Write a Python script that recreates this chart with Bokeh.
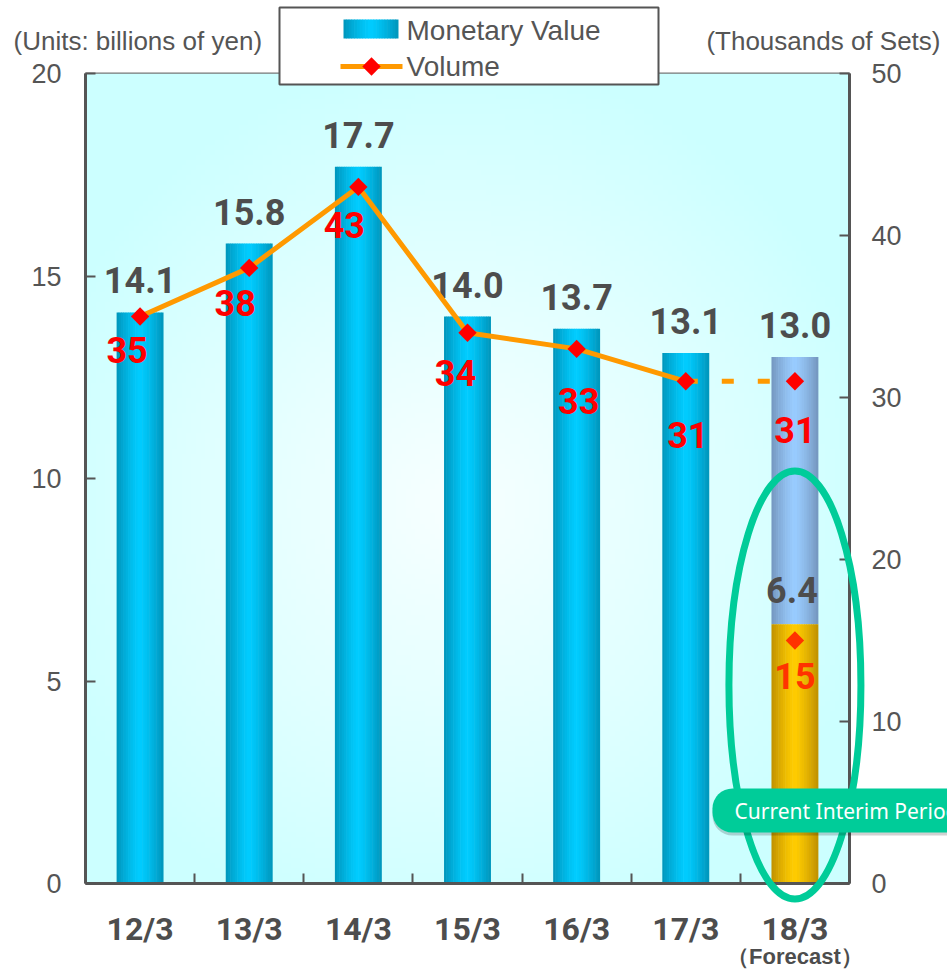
import numpy as np
from bokeh.plotting import figure
from bokeh.models import Range1d, LinearAxis, FixedTicker, ColumnDataSource
from bokeh.core.properties import value
from bokeh.embed import file_html
from bokeh.resources import INLINE

# ---- data ---------------------------------------------------------------
periods = ["12/3", "13/3", "14/3", "15/3", "16/3", "17/3", "18/3"]
amount = [14.1, 15.8, 17.7, 14.0, 13.7, 13.1, 13.0]      # billions of yen
volume = [35, 38, 43, 34, 33, 31, 31]                    # thousands of sets
interim_amount = 6.4
interim_volume = 15
yen_ticks = [0, 5, 10, 15, 20]
set_ticks = [0, 10, 20, 30, 40, 50]
forecast_note = "（Forecast）"
interim_note = "Current Interim Period"
left_unit = "(Units: billions of yen)"
right_unit = "(Thousands of Sets)"
legend_labels = ["Monetary Value", "Volume"]

# ---- styling --------------------------------------------------------------
GRAY = "#555555"
DARK = "#4D4D4D"
SANS = "Liberation Sans"
NUM = "Roboto"
ORANGE = "#FF9900"
TEAL = "#00CC99"
# pixel nudges for the red volume labels (x shift, drop below marker)
vol_dx = [-13, -14, -14, -12, 2, 2, 0]
vol_dy = [33, 35, 38, 40, 52, 54, 49]

W, H = 947, 972
FL, FR, FT, FB = 85, 849, 73, 883          # plot frame edges in pixels
n = len(periods)
xc = np.arange(n) + 0.5
BAR_W = 0.43
YMAX = 20


def fx(px):
    """canvas pixel column -> x data value"""
    return (px - FL) / (FR - FL) * n


def fy(py):
    """canvas pixel row -> left-axis data value"""
    return (FB - py) / (FB - FT) * YMAX


p = figure(width=W, height=H, x_range=Range1d(0, n), y_range=Range1d(0, YMAX),
           output_backend="svg", toolbar_location=None,
           min_border_left=FL, min_border_right=W - FR, min_border_top=FT,
           min_border_bottom=H - FB)
p.extra_y_ranges = {"vol": Range1d(0, 50)}
p.xgrid.visible = False
p.ygrid.visible = False
p.background_fill_color = "white"
p.border_fill_color = "white"
p.outline_line_color = "#777777"
p.outline_line_width = 2

# ---- soft radial background ------------------------------------------------
gh, gw = 160, 160
yy, xx = np.mgrid[0:gh, 0:gw]
px = xx / (gw - 1) * (FR - FL)
py = (1 - yy / (gh - 1)) * (FB - FT)
d = np.sqrt(((px - 370) / 440.0) ** 2 + ((py - 430) / 450.0) ** 2)
t = np.clip(d, 0, 1) ** 1.1
edge = np.array([204, 255, 255], dtype=float)
mid = np.array([247, 255, 255], dtype=float)
rgb = mid + (edge - mid) * t[..., None]
img = np.empty((gh, gw), dtype=np.uint32)
view = img.view(dtype=np.uint8).reshape((gh, gw, 4))
for k in range(3):
    view[..., k] = rgb[..., k].astype(np.uint8)
view[..., 3] = 255
p.image_rgba(image=[img], x=0, y=0, dw=n, dh=YMAX)


# ---- cylinder-shaded bars --------------------------------------------------
def hexc(c):
    return np.array([int(c[i:i + 2], 16) for i in (1, 3, 5)], dtype=float)


def tone(c_mid, c_edge, f):
    a, b = hexc(c_mid), hexc(c_edge)
    c = a + (b - a) * f
    return "#%02x%02x%02x" % tuple(int(round(v)) for v in c)


NS = 20
offs = (np.arange(NS) + 0.5) / NS - 0.5


def shaded_strips(xpos, width, bottom, top, c_mid, c_edge, out):
    sw = width / NS
    for o in offs:
        f = min(1.0, abs(o) * 2) ** 1.3
        cx = xpos + o * width
        out["left"].append(max(xpos - width / 2, cx - sw * 0.62))
        out["right"].append(min(xpos + width / 2, cx + sw * 0.62))
        out["bottom"].append(bottom)
        out["top"].append(top)
        out["color"].append(tone(c_mid, c_edge, f))


BLUE_MID, BLUE_EDGE = "#00CCFF", "#0094BA"
strips = dict(left=[], right=[], bottom=[], top=[], color=[])
for i in range(n - 1):
    shaded_strips(xc[i], BAR_W, 0, amount[i], BLUE_MID, BLUE_EDGE, strips)
shaded_strips(xc[-1], BAR_W, interim_amount, amount[-1], "#99CCFF", "#7496BE", strips)
shaded_strips(xc[-1], BAR_W, 0, interim_amount, "#FFCC00", "#BF9000", strips)
p.quad(left="left", right="right", bottom="bottom", top="top", source=ColumnDataSource(strips),
       fill_color="color", line_color=None)

# ---- amount labels ----------------------------------------------------------
p.text(x=xc, y=amount, text=[f"{v:.1f}" for v in amount], text_align="center",
       text_baseline="middle", y_offset=-32, text_font=value(NUM), text_font_style="bold",
       text_font_size="36px", text_color=DARK)
p.text(x=[xc[-1]], y=[interim_amount], text=[f"{interim_amount:.1f}"], text_align="center",
       text_baseline="middle", x_offset=-3, y_offset=-34, text_font=value(NUM),
       text_font_style="bold", text_font_size="36px", text_color=DARK)

# ---- volume line ------------------------------------------------------------
p.line(xc[:n - 1], volume[:n - 1], y_range_name="vol", line_color=ORANGE, line_width=5)
p.line(xc[n - 2:], volume[n - 2:], y_range_name="vol", line_color=ORANGE, line_width=5,
       line_dash="12 24")
p.scatter(xc, volume, y_range_name="vol", marker="square", angle=np.pi / 4, size=13,
          fill_color="#FF0000", line_color=None)
p.scatter([xc[-1]], [interim_volume], y_range_name="vol", marker="square", angle=np.pi / 4,
          size=13, fill_color="#FF3300", line_color=None)

vol_src = ColumnDataSource(dict(x=xc, y=volume, t=[str(v) for v in volume], dx=vol_dx, dy=vol_dy))
p.text(x="x", y="y", text="t", x_offset="dx", y_offset="dy", source=vol_src, y_range_name="vol",
       text_align="center", text_baseline="middle", text_font=value(NUM), text_font_style="bold",
       text_font_size="36px", text_color="#FF0000")
p.text(x=[xc[-1]], y=[interim_volume], text=[str(interim_volume)], y_offset=35, y_range_name="vol",
       text_align="center", text_baseline="middle", text_font=value(NUM), text_font_style="bold",
       text_font_size="36px", text_color="#FF3300")

# ---- interim highlight (drawn unclipped on the overlay level) ---------------
p.ellipse(x=[xc[-1]], y=[fy(684.5)], width=132, height=428, width_units="screen",
          height_units="screen", fill_color=None, line_color=TEAL, line_width=7, level="overlay")
callout_pad = dict(left=22, right=22, top=8, bottom=8)
p.text(x=[fx(712)], y=[fy(810)], text=[interim_note], y_offset=3, text_align="left",
       text_baseline="middle", text_font=value("Noto Sans"), text_font_size="21px",
       text_alpha=0, background_fill_color="#000000", background_fill_alpha=0.18,
       border_radius=20, padding=callout_pad, level="overlay")
p.text(x=[fx(712)], y=[fy(810)], text=[interim_note], text_align="left",
       text_baseline="middle", text_font=value("Noto Sans"), text_font_size="21px",
       text_color="white", background_fill_color=TEAL, border_radius=20,
       padding=callout_pad, level="overlay")

# ---- axes ------------------------------------------------------------------
p.xaxis.ticker = FixedTicker(ticks=list(xc), minor_ticks=list(range(1, n)))
p.xaxis.major_label_overrides = {float(x): lab for x, lab in zip(xc, periods)}
p.xaxis.major_tick_line_color = None
p.xaxis.minor_tick_in = 10
p.xaxis.minor_tick_out = 0
p.xaxis.minor_tick_line_color = GRAY
p.xaxis.minor_tick_line_width = 2
p.xaxis.axis_line_color = GRAY
p.xaxis.axis_line_width = 3
p.xaxis.major_label_standoff = 20
p.xaxis.major_label_text_font = NUM
p.xaxis.major_label_text_font_style = "bold"
p.xaxis.major_label_text_font_size = "32px"
p.xaxis.major_label_text_color = DARK

p.yaxis.ticker = FixedTicker(ticks=yen_ticks)
right = LinearAxis(y_range_name="vol", ticker=FixedTicker(ticks=set_ticks))
p.add_layout(right, "right")
for ax in (p.yaxis[0], right):
    ax.major_tick_in = 10
    ax.major_tick_out = 0
    ax.minor_tick_line_color = None
    ax.major_tick_line_color = GRAY
    ax.major_tick_line_width = 2
    ax.axis_line_color = GRAY
    ax.axis_line_width = 3
    ax.major_label_text_font = SANS
    ax.major_label_text_font_size = "27px"
    ax.major_label_text_color = GRAY
p.yaxis[0].major_label_standoff = 24
right.major_label_standoff = 22

p.text(x=[xc[-1]], y=[0], text=[forecast_note], y_offset=73, text_align="center",
       text_baseline="middle", text_font=value(SANS), text_font_style="bold",
       text_font_size="22px", text_color=DARK, level="overlay")

# unit captions above the two value axes
p.text(x=[fx(13)], y=[fy(40)], text=[left_unit], text_align="left", text_baseline="middle",
       text_font=value(SANS), text_font_size="26px", text_color=GRAY, level="overlay")
p.text(x=[fx(940)], y=[fy(40)], text=[right_unit], text_align="right", text_baseline="middle",
       text_font=value(SANS), text_font_size="26px", text_color=GRAY, level="overlay")

# ---- legend box (drawn by hand so it can straddle the frame edge) -----------
p.quad(left=[fx(279)], right=[fx(658)], top=[fy(7)], bottom=[fy(84)], fill_color="white",
       line_color=GRAY, line_width=2, level="overlay")
key = dict(left=[], right=[], bottom=[], top=[], color=[])
shaded_strips(fx(370.5), fx(398) - fx(343), fy(38), fy(19), BLUE_MID, BLUE_EDGE, key)
p.quad(left="left", right="right", bottom="bottom", top="top", source=ColumnDataSource(key),
       fill_color="color", line_color=None, level="overlay")
p.line([fx(340), fx(402)], [fy(66)] * 2, line_color=ORANGE, line_width=5, level="overlay")
p.scatter([fx(371)], [fy(66)], marker="square", angle=np.pi / 4, size=13,
          fill_color="#FF0000", line_color=None, level="overlay")
p.text(x=[fx(406)] * 2, y=[fy(30), fy(66)], text=legend_labels, text_align="left",
       text_baseline="middle", text_font=value(SANS), text_font_size="28px",
       text_color=GRAY, level="overlay")

open("out.html", "w").write(file_html(p, INLINE))
